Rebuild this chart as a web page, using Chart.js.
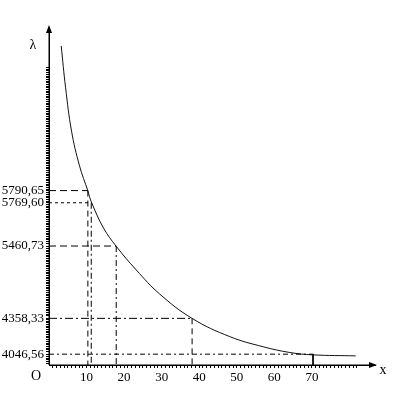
<!DOCTYPE html>
<html><head><meta charset="utf-8">
<script src="https://cdn.jsdelivr.net/npm/chart.js@4"></script>
<style>html,body{margin:0;padding:0;background:#fff}#wrap{width:394px;height:403px;position:relative}</style>
</head><body><div id="wrap"><canvas id="c"></canvas></div>
<script>
// Spectral lines (wavelengths, shown as y tick labels) and their levels on the schematic λ axis
const wavelengthLabels = ['5790,65', '5769,60', '5460,73', '4358,33', '4046,56'];
const wavelengthLevels = [51.6, 48.0, 35.2, 13.8, 3.2];
// Scale readings x for each line
const scaleReadings = [10.35, 11.25, 17.9, 38.1, 70.3];
// Labelled x ticks
const xTickValues = [10, 20, 30, 40, 50, 60, 70];
// Dispersion curve
const curveX = [3.25, 4.4, 6.0, 8.13, 10.35, 11.25, 14.53, 17.92, 23.25, 29.47, 38.08, 48.13, 57.0, 64.13, 70.27, 81.65];
const curveLevel = [94.4, 82.2, 69.2, 58.9, 51.5, 48.3, 40.5, 35.1, 28.1, 21.0, 13.8, 8.4, 5.4, 3.7, 3.0, 2.7];

const hDash = [[7, 4], [3, 3], [7, 4], [8, 3, 2, 3], [5, 3, 2, 3]];
const vDash = [[6, 4], [6, 3, 2, 3], [6, 3, 2, 3], [6, 4], []];
const FONT = {family: '"Liberation Serif", "Times New Roman", serif', size: 13};

const datasets = [];
scaleReadings.forEach((xv, i) => {
  const lv = wavelengthLevels[i];
  datasets.push({data: [{x: 0, y: lv}, {x: xv, y: lv}], borderColor: '#000', borderWidth: 1,
    borderDash: hDash[i], pointRadius: 0, fill: false});
  datasets.push({data: [{x: xv, y: lv}, {x: xv, y: 0}], borderColor: '#000', borderWidth: 1,
    borderDash: vDash[i], pointRadius: 0, fill: false});
});
datasets.push({
  data: curveX.map((x, i) => ({x, y: curveLevel[i]})),
  borderColor: '#111', borderWidth: 1, pointRadius: 0, fill: false, tension: 0.4
});

const decor = {
  id: 'decor',
  afterDraw(chart) {
    const ctx = chart.ctx, xs = chart.scales.x, ys = chart.scales.y;
    const ox = xs.getPixelForValue(0), oy = ys.getPixelForValue(0);
    const tx = xs.getPixelForValue(xs.max), ty = ys.getPixelForValue(ys.max);
    ctx.save();
    ctx.fillStyle = '#000';
    // y arrow
    ctx.beginPath();
    ctx.moveTo(ox, ty - 2); ctx.lineTo(ox - 3, ty + 6); ctx.lineTo(ox + 3, ty + 6); ctx.closePath(); ctx.fill();
    ctx.fillRect(ox - 0.5, ty, 1, oy - ty);
    // x arrow
    ctx.beginPath();
    ctx.moveTo(tx + 2, oy); ctx.lineTo(tx - 6, oy - 3); ctx.lineTo(tx - 6, oy + 3); ctx.closePath(); ctx.fill();
    ctx.fillRect(ox, oy - 0.5, tx - ox, 1);
    ctx.font = '14px "Liberation Serif", serif';
    ctx.textAlign = 'center'; ctx.textBaseline = 'middle';
    ctx.fillText('λ', ox - 16, ty + 18);
    ctx.fillText('x', tx + 8, oy + 5);
    ctx.fillText('O', ox - 13, oy + 11);
    ctx.restore();
  }
};

new Chart(document.getElementById('c'), {
  type: 'line',
  data: {datasets},
  plugins: [decor],
  options: {
    responsive: true, maintainAspectRatio: false, animation: false,
    layout: {padding: {top: 27, right: 19, left: 0, bottom: 0}},
    plugins: {legend: {display: false}, tooltip: {enabled: false}},
    scales: {
      x: {
        type: 'linear', min: 0, max: 86.8,
        afterBuildTicks(s) {
          const t = [];
          for (let v = 1; v <= 82; v++) t.push({value: v});
          s.ticks = t;
        },
        afterFit(s) { s.height = 38; },
        grid: {display: true, drawOnChartArea: false, drawTicks: true, tickLength: 3, color: '#000', tickWidth: 1},
        border: {display: true, color: '#000', width: 1},
        ticks: {
          autoSkip: false, maxRotation: 0, padding: 2, color: '#000', font: FONT,
          callback: v => xTickValues.includes(v) ? String(v) : ''
        }
      },
      y: {
        type: 'linear', min: 0, max: 100,
        afterBuildTicks(s) {
          const t = [];
          for (let v = 0.5; v <= 88; v += 0.5) {
            if (!wavelengthLevels.some(l => Math.abs(l - v) < 0.3)) t.push({value: v});
          }
          wavelengthLevels.forEach(l => t.push({value: l}));
          t.sort((a, b) => a.value - b.value);
          s.ticks = t;
        },
        afterFit(s) { s.width = 49; },
        grid: {display: true, drawOnChartArea: false, drawTicks: true, tickLength: 3, color: '#000'},
        border: {display: true, color: '#000', width: 1},
        ticks: {
          autoSkip: false, padding: 2, color: '#000', font: FONT,
          callback: v => {
            const i = wavelengthLevels.indexOf(v);
            return i >= 0 ? wavelengthLabels[i] : '';
          }
        }
      }
    }
  }
});
</script>
</body></html>
